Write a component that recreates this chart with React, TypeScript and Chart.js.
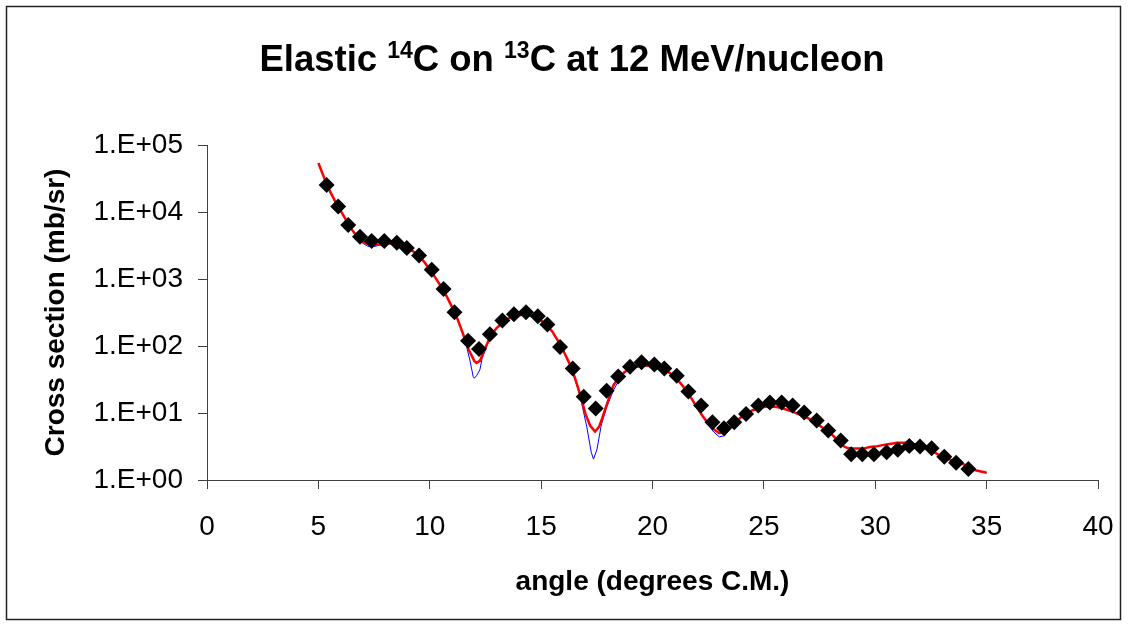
import { useEffect, useRef } from "react";
import { Chart, registerables } from "chart.js";

Chart.register(...registerables);

const FONT = "'Liberation Sans', Arial, Helvetica, sans-serif";

// Measured elastic cross sections (angle in degrees C.M., sigma in mb/sr)
const dataAngle = [
  5.37, 5.89, 6.34, 6.87, 7.39, 7.96, 8.52, 8.97, 9.52, 10.09, 10.62, 11.11, 11.72, 12.21,
  12.7, 13.26, 13.78, 14.32, 14.85, 15.28, 15.85, 16.42, 16.91, 17.45, 17.94, 18.46, 18.99,
  19.51, 20.08, 20.53, 21.09, 21.61, 22.18, 22.69, 23.21, 23.67, 24.2, 24.75, 25.27, 25.8,
  26.29, 26.81, 27.37, 27.89, 28.45, 28.92, 29.42, 29.94, 30.51, 31.01, 31.53, 32.01, 32.53,
  33.1, 33.63, 34.18,
];
const dataSigma = [
  25300, 12100, 6400, 4280, 3690, 3690, 3470, 2900, 2240, 1370, 710, 318, 120, 90,
  150, 240, 297, 318, 277, 209, 97, 46, 17.5, 11.7, 21.5, 35, 49,
  57, 53, 46, 36, 21, 12.9, 7.3, 5.9, 7.3, 9.7, 12.9, 14.4, 14.4,
  12.9, 10.2, 7.7, 5.5, 3.9, 2.43, 2.42, 2.42, 2.59, 2.82, 3.22, 3.16, 2.97,
  2.23, 1.81, 1.46,
];

// Optical-model calculation (red)
const redAngle = [
  5.0, 5.25, 5.5, 5.75, 6.0, 6.25, 6.5, 6.75, 7.0, 7.25, 7.5, 7.75, 8.0, 8.25, 8.5, 8.75,
  9.0, 9.25, 9.5, 9.75, 10.0, 10.25, 10.5, 10.75, 11.0, 11.25, 11.5, 11.75, 12.0, 12.1,
  12.25, 12.5, 12.75, 13.0, 13.25, 13.5, 13.75, 14.0, 14.25, 14.5, 14.75, 15.0, 15.25,
  15.5, 15.75, 16.0, 16.25, 16.5, 16.75, 17.0, 17.2, 17.42, 17.6, 17.75, 18.0, 18.25, 18.5,
  18.75, 19.0, 19.25, 19.5, 19.75, 20.0, 20.25, 20.5, 20.75, 21.0, 21.25, 21.5, 21.75,
  22.0, 22.25, 22.5, 22.75, 23.0, 23.25, 23.5, 23.75, 24.0, 24.25, 24.5, 24.75, 25.0,
  25.25, 25.5, 25.75, 26.0, 26.25, 26.5, 26.75, 27.0, 27.25, 27.5, 27.75, 28.0, 28.25,
  28.5, 28.75, 29.0, 29.5, 29.75, 30.0, 30.5, 31.0, 31.5, 31.8, 32.0, 32.5, 33.0, 33.5,
  34.0, 34.5, 35.0,
];
const redSigma = [
  54000, 33000, 21000, 14500, 10500, 7500, 5500, 4300, 3600, 3300, 3250, 3300, 3400, 3400,
  3350, 3150, 2900, 2600, 2200, 1800, 1400, 1050, 780, 560, 380, 250, 150, 88, 60, 56,
  60, 95, 145, 185, 220, 255, 275, 288, 292, 285, 265, 240, 205,
  165, 120, 85, 57, 35, 19, 9.5, 6.5, 5.3, 6.2, 8.5, 15, 26, 34,
  41, 46, 49, 50, 51, 50, 48, 45, 40, 35, 28, 22, 16.5,
  12, 9, 7, 5.7, 5.0, 5.2, 6.2, 7.5, 8.8, 10.0, 11.0, 11.8, 12.3,
  12.5, 12.4, 12.0, 11.3, 10.6, 9.8, 9.1, 8.3, 7.4, 6.5, 5.7, 5.0, 4.1,
  3.3, 3.0, 2.95, 2.95, 3.1, 3.15, 3.4, 3.6, 3.6, 3.4, 3.2, 2.8, 2.2, 1.95,
  1.7, 1.4, 1.28,
];

// Second calculation (blue)
const blueAngle = [
  5.0, 5.25, 5.5, 5.75, 6.0, 6.25, 6.5, 6.75, 7.0, 7.25, 7.5, 7.75, 8.0, 8.25, 8.5, 8.75,
  9.0, 9.25, 9.5, 9.75, 10.0, 10.25, 10.5, 10.75, 11.0, 11.25, 11.5, 11.6, 11.8, 11.95,
  12.0, 12.1, 12.25, 12.35, 12.55, 12.75, 13.0, 13.25, 13.5, 13.75, 14.0, 14.25, 14.5,
  14.75, 15.0, 15.25, 15.5, 15.75, 16.0, 16.25, 16.5, 16.75, 17.05, 17.25, 17.35, 17.5,
  17.7, 17.95, 18.25, 18.5, 18.75, 19.0, 19.25, 19.5, 19.75, 20.0, 20.25, 20.5, 20.75,
  21.0, 21.25, 21.5, 21.75, 22.0, 22.25, 22.5, 22.75, 23.0, 23.25, 23.5, 23.75, 24.0,
  24.25, 24.5, 24.75, 25.0, 25.25, 25.5, 25.75, 26.0, 26.25, 26.5, 26.75, 27.0, 27.25,
  27.5, 27.75, 28.0, 28.25, 28.5, 28.75, 29.0, 29.5, 29.75, 30.0, 30.5, 31.0, 31.5, 31.8,
  32.0, 32.5, 33.0, 33.5, 34.0, 34.5, 35.0,
];
const blueSigma = [
  54000, 33000, 21000, 14500, 10500, 7400, 5300, 4100, 3400, 3050, 3050, 3200, 3350, 3400,
  3350, 3150, 2900, 2600, 2200, 1800, 1400, 1050, 780, 560, 380, 250, 150, 115, 62, 35,
  33, 36, 44, 65, 98, 145, 185, 220, 255, 275, 288, 292, 285,
  265, 240, 205, 165, 120, 85, 55, 33, 18, 6.2, 2.6, 2.05, 2.8,
  6.6, 12.4, 22, 31, 40, 46, 49, 50, 51, 50, 48, 45, 40,
  35, 28, 22, 16.5, 12, 8.8, 6.6, 5.2, 4.4, 4.6, 5.9, 7.4, 8.8,
  10.0, 11.0, 11.8, 12.3, 12.6, 12.5, 12.0, 11.3, 10.6, 9.8, 9.1, 8.3, 7.3,
  6.4, 5.6, 4.9, 4.0, 3.3, 3.0, 2.95, 2.95, 3.1, 3.15, 3.4, 3.6, 3.6, 3.4,
  3.2, 2.8, 2.2, 1.95, 1.7, 1.4, 1.28,
];

const xTicks = [0, 5, 10, 15, 20, 25, 30, 35, 40];
const yTicks = [1, 10, 100, 1000, 10000, 100000];
const yTickLabels = ["1.E+00", "1.E+01", "1.E+02", "1.E+03", "1.E+04", "1.E+05"];

// Title pieces: normal text and superscript mass numbers
const titleParts: { text: string; sup: boolean }[] = [
  { text: "Elastic ", sup: false },
  { text: "14", sup: true },
  { text: "C on ", sup: false },
  { text: "13", sup: true },
  { text: "C at 12 MeV/nucleon", sup: false },
];

const pairs = (xs: number[], ys: number[]) => xs.map((x, i) => ({ x, y: ys[i] }));

const framePlugin = {
  id: "frameAndTitle",
  afterDraw(chart: any) {
    const ctx = chart.ctx as CanvasRenderingContext2D;
    ctx.save();
    // outer frame
    ctx.strokeStyle = "#222";
    ctx.lineWidth = 1.5;
    ctx.strokeRect(6.5, 6.5, 1114, 613);

    // title with superscripts
    const mainFont = `bold 36.5px ${FONT}`;
    const supFont = `bold 23px ${FONT}`;
    let total = 0;
    const widths = titleParts.map((p) => {
      ctx.font = p.sup ? supFont : mainFont;
      const w = ctx.measureText(p.text).width;
      total += w;
      return w;
    });
    let x = 572 - total / 2;
    const baseline = 71;
    ctx.fillStyle = "#000";
    ctx.textBaseline = "alphabetic";
    ctx.textAlign = "left";
    titleParts.forEach((p, i) => {
      ctx.font = p.sup ? supFont : mainFont;
      ctx.fillText(p.text, x, p.sup ? baseline - 13 : baseline);
      x += widths[i];
    });
    ctx.restore();
  },
};

export default function App() {
  const canvasRef = useRef<HTMLCanvasElement | null>(null);

  useEffect(() => {
    if (!canvasRef.current) return;
    const axisColor = "#404040";
    const chart = new Chart(canvasRef.current, {
      type: "scatter",
      data: {
        datasets: [
          {
            label: "data",
            data: pairs(dataAngle, dataSigma),
            pointStyle: "rectRot",
            pointRadius: 8,
            backgroundColor: "#000",
            borderColor: "#000",
            borderWidth: 0,
            showLine: false,
            order: 0,
          },
          {
            label: "red",
            data: pairs(redAngle, redSigma),
            showLine: true,
            borderColor: "#ff0000",
            borderWidth: 2.5,
            pointRadius: 0,
            tension: 0,
            order: 1,
          },
          {
            label: "blue",
            data: pairs(blueAngle, blueSigma),
            showLine: true,
            borderColor: "#0000ff",
            borderWidth: 1,
            pointRadius: 0,
            tension: 0,
            order: 2,
          },
        ],
      },
      options: {
        responsive: false,
        animation: false,
        layout: { padding: { left: 0, top: 145, right: 30, bottom: 0 } },
        plugins: {
          legend: { display: false },
          tooltip: { enabled: false },
          title: { display: false },
        },
        scales: {
          x: {
            type: "linear",
            min: 0,
            max: 40,
            afterBuildTicks: (s: any) => {
              s.ticks = xTicks.map((v) => ({ value: v }));
            },
            afterFit: (s: any) => {
              s.height = 144;
              // the layout padding already leaves room for the end labels
              s.paddingLeft = 0;
              s.paddingRight = 0;
            },
            grid: { drawOnChartArea: false, drawTicks: true, tickLength: 9, color: axisColor },
            border: { color: axisColor, width: 1 },
            ticks: { font: { size: 28, family: FONT }, color: "#000", padding: 21, maxRotation: 0 },
            title: {
              display: true,
              text: "angle (degrees C.M.)",
              font: { size: 28, weight: "bold", family: FONT },
              color: "#000",
              padding: { top: 0, bottom: 25 },
            },
          },
          y: {
            type: "logarithmic",
            min: 1,
            max: 100000,
            afterBuildTicks: (s: any) => {
              s.ticks = yTicks.map((v) => ({ value: v }));
            },
            afterFit: (s: any) => {
              s.width = 207;
            },
            grid: { drawOnChartArea: false, drawTicks: true, tickLength: 9, color: axisColor },
            border: { color: axisColor, width: 1 },
            ticks: {
              font: { size: 28, family: FONT },
              color: "#000",
              padding: 15,
              callback: (_v: any, i: number) => yTickLabels[i],
            },
            title: {
              display: true,
              text: "Cross section (mb/sr)",
              font: { size: 28, weight: "bold", family: FONT },
              color: "#000",
              padding: { top: 39, bottom: 0 },
            },
          },
        },
      } as any,
      plugins: [framePlugin],
    });
    return () => chart.destroy();
  }, []);

  return (
    <div style={{ position: "absolute", left: 0, top: 0, width: 1128, height: 624, background: "#fff" }}>
      <canvas ref={canvasRef} width={1128} height={624} />
    </div>
  );
}
